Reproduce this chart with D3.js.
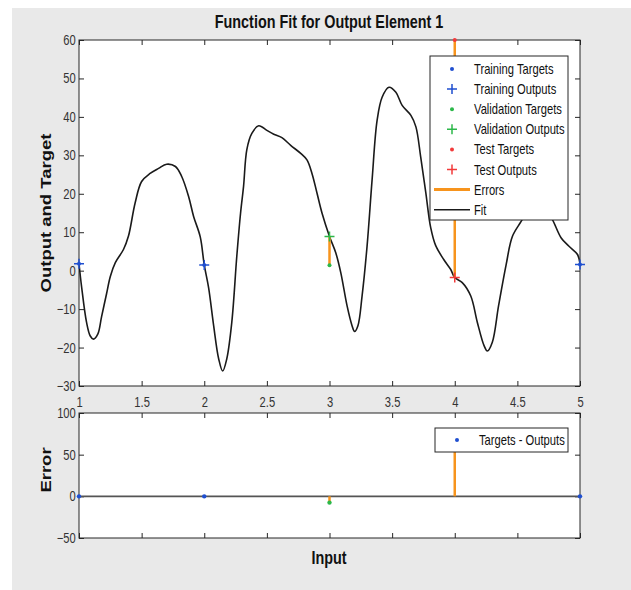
<!DOCTYPE html>
<html>
<head>
<meta charset="utf-8">
<script src="https://cdn.jsdelivr.net/npm/d3@7"></script>
<style>
  body { margin: 0; background: #fff; }
  text { font-family: "Liberation Sans", Arial, sans-serif; }
</style>
</head>
<body>
<div id="chart"></div>
<script>
// data
var trainX = [1, 2, 5],
    trainTargets = [1.8, 1.5, 1.6],
    trainOutputs = [1.8, 1.5, 1.6];
var valX = [3],
    valTargets = [1.4],
    valOutputs = [8.9];
var testX = [4],
    testTargets = [60],
    testOutputs = [-1.8];

var fitX = [1.00, 1.02, 1.06, 1.09, 1.115, 1.15, 1.18, 1.22, 1.25, 1.29, 1.355, 1.395, 1.448, 1.50, 1.568, 1.635, 1.70,
            1.77, 1.82, 1.875, 1.915, 1.968, 2.00, 2.035, 2.075, 2.115, 2.147, 2.18, 2.22, 2.26, 2.29, 2.314,
            2.34, 2.38, 2.435, 2.50, 2.555, 2.62, 2.69, 2.77, 2.82, 2.86, 2.90, 2.94, 3.00, 3.05, 3.09,
            3.14, 3.18, 3.20, 3.227, 3.26, 3.30, 3.34, 3.38, 3.42, 3.475, 3.53, 3.58, 3.65, 3.69, 3.728,
            3.768, 3.808, 3.848, 3.912, 3.968, 4.00, 4.06, 4.128, 4.18, 4.234, 4.26, 4.30, 4.35, 4.41, 4.46,
            4.53, 4.60, 4.66, 4.72, 4.78, 4.85, 4.91, 4.98, 5.00];
var fitY = [1.8, -4, -13.4, -17, -17.8, -16.5, -12, -6, -1.5, 2.1, 5.5, 9, 17.6, 23.2, 25.3, 26.6, 27.7,
            27.1, 24.5, 19.3, 14.1, 8.8, 1.5, -4.5, -14.3, -22.9, -26.1, -22.9, -13.4, 3.8, 15, 22,
            31.5, 35.7, 37.7, 36.5, 35.5, 34.6, 32.6, 30.5, 28.8, 25.3, 20.2, 15, 8.9, 4.65, -0.5,
            -9.1, -14.3, -15.8, -14.3, -6.6, 6.4, 23.6, 39.1, 45.1, 47.7, 46.4, 43, 40.4, 37.4, 29.6,
            20.5, 11.2, 6.5, 2.9, 0.3, -1.8, -3.1, -6.6, -13.4, -19.5, -20.9, -18.6, -9.1, 1.5, 8.9,
            12.8, 16.5, 17.5, 16.5, 13.3, 8.5, 6.4, 4.2, 1.6];

var xTicks = [1, 1.5, 2, 2.5, 3, 3.5, 4, 4.5, 5],
    yTicksTop = [-30, -20, -10, 0, 10, 20, 30, 40, 50, 60],
    yTicksErr = [-50, 0, 50, 100];

var legendLabels = ["Training Targets", "Training Outputs", "Validation Targets", "Validation Outputs",
                    "Test Targets", "Test Outputs", "Errors", "Fit"];

// styles
var blue = "#1f4fd0", green = "#2cb84a", red = "#f23a3a", orange = "#f7941d", ink = "#262626";
var squeeze = 0.8;

var width = 631, height = 590;
var left = 79, right = 580;

var x = d3.scaleLinear().domain([1, 5]).range([left, right]);
var yTop = d3.scaleLinear().domain([-30, 60]).range([386, 40]);
var yErr = d3.scaleLinear().domain([-50, 100]).range([538, 413]);

var svg = d3.select("#chart").append("svg")
    .attr("width", width)
    .attr("height", height);

svg.append("rect")
    .attr("x", 12).attr("y", 8)
    .attr("width", width - 12).attr("height", height - 8)
    .attr("fill", "#e9e9e9");

function series(xs, ys) {
  return xs.map(function(d, i) { return { x: d, y: ys[i] }; });
}

function plus(sel, color) {
  sel.append("path")
    .attr("d", "M-5,0H5M0,-5V5")
    .attr("stroke", color)
    .attr("stroke-width", 1.5)
    .attr("fill", "none");
}

function drawAxes(yScale, yTicks, showX) {
  var top = yScale.range()[1], bottom = yScale.range()[0];
  var g = svg.append("g");

  g.append("rect")
    .attr("x", left).attr("y", top)
    .attr("width", right - left).attr("height", bottom - top)
    .attr("fill", "#fff");

  return function() {
    var fmt = d3.format("");
    g.append("g")
      .attr("transform", "translate(0," + bottom + ")")
      .call(d3.axisBottom(x).tickValues(xTicks).tickSizeInner(-5).tickSizeOuter(0)
        .tickPadding(11).tickFormat(showX ? fmt : ""));
    g.append("g")
      .attr("transform", "translate(0," + top + ")")
      .call(d3.axisTop(x).tickValues(xTicks).tickSizeInner(-5).tickSizeOuter(0).tickFormat(""));
    g.append("g")
      .attr("transform", "translate(" + left + ",0)")
      .call(d3.axisLeft(yScale).tickValues(yTicks).tickSizeInner(-5).tickSizeOuter(0).tickPadding(4).tickFormat(fmt));
    g.append("g")
      .attr("transform", "translate(" + right + ",0)")
      .call(d3.axisRight(yScale).tickValues(yTicks).tickSizeInner(-5).tickSizeOuter(0).tickFormat(""));

    g.selectAll(".domain").remove();
    g.selectAll(".tick line").attr("stroke", ink);
    g.selectAll(".tick text")
      .attr("fill", "#333")
      .style("font-size", "14px")
      .attr("transform", "scale(" + squeeze + ",1)");

    g.append("rect")
      .attr("x", left).attr("y", top)
      .attr("width", right - left).attr("height", bottom - top)
      .attr("fill", "none")
      .attr("stroke", ink)
      .attr("stroke-width", 1);
  };
}

// clip paths
var defs = svg.append("defs");
defs.append("clipPath").attr("id", "clip-top")
  .append("rect").attr("x", left).attr("y", 40).attr("width", right - left).attr("height", 346);
defs.append("clipPath").attr("id", "clip-err")
  .append("rect").attr("x", left).attr("y", 413).attr("width", right - left).attr("height", 125);

var errSets = [
  { xs: trainX, t: trainTargets, o: trainOutputs, color: blue },
  { xs: valX, t: valTargets, o: valOutputs, color: green },
  { xs: testX, t: testTargets, o: testOutputs, color: red }
];

// ---------- top plot ----------
var finishTop = drawAxes(yTop, yTicksTop, true);
var plotTop = svg.append("g").attr("clip-path", "url(#clip-top)");

var line = d3.line()
    .curve(d3.curveCatmullRom.alpha(0.5))
    .x(function(d) { return x(d.x); })
    .y(function(d) { return yTop(d.y); });

plotTop.append("path")
  .attr("d", line(series(fitX, fitY)))
  .attr("fill", "none")
  .attr("stroke", "#1a1a1a")
  .attr("stroke-width", 1.6);

errSets.forEach(function(s) {
  s.xs.forEach(function(xv, i) {
    plotTop.append("line")
      .attr("x1", x(xv)).attr("x2", x(xv))
      .attr("y1", yTop(s.t[i])).attr("y2", yTop(s.o[i]))
      .attr("stroke", orange).attr("stroke-width", 2.5);
  });
});

finishTop();

var marksTop = svg.append("g");
errSets.forEach(function(s) {
  s.xs.forEach(function(xv, i) {
    marksTop.append("circle")
      .attr("cx", x(xv)).attr("cy", yTop(s.t[i])).attr("r", 2)
      .attr("fill", s.color);
    plus(marksTop.append("g").attr("transform", "translate(" + x(xv) + "," + yTop(s.o[i]) + ")"), s.color);
  });
});

// top legend
var leg = svg.append("g").attr("transform", "translate(430,56)");
leg.append("rect")
  .attr("width", 138).attr("height", 164)
  .attr("fill", "#fff").attr("stroke", ink).attr("stroke-width", 1);

var legColors = [blue, blue, green, green, red, red, orange, "#1a1a1a"];
legendLabels.forEach(function(label, i) {
  var row = leg.append("g").attr("transform", "translate(0," + (13 + i * 20.1) + ")");
  if (i < 6) {
    if (i % 2 === 0) {
      row.append("circle").attr("cx", 22).attr("cy", 0).attr("r", 2).attr("fill", legColors[i]);
    } else {
      plus(row.append("g").attr("transform", "translate(22,0)"), legColors[i]);
    }
  } else {
    row.append("line")
      .attr("x1", 4).attr("x2", 40).attr("y1", 0).attr("y2", 0)
      .attr("stroke", legColors[i]).attr("stroke-width", i === 6 ? 3 : 1.6);
  }
  row.append("text")
    .attr("transform", "translate(44,5) scale(" + squeeze + ",1)")
    .style("font-size", "14px")
    .attr("fill", "#111")
    .text(label);
});

// ---------- error plot ----------
var finishErr = drawAxes(yErr, yTicksErr, false);
var plotErr = svg.append("g").attr("clip-path", "url(#clip-err)");

plotErr.append("line")
  .attr("x1", x(1)).attr("x2", x(5))
  .attr("y1", yErr(0)).attr("y2", yErr(0))
  .attr("stroke", "#555").attr("stroke-width", 1.8);

errSets.forEach(function(s) {
  s.xs.forEach(function(xv, i) {
    var e = s.t[i] - s.o[i];
    plotErr.append("line")
      .attr("x1", x(xv)).attr("x2", x(xv))
      .attr("y1", yErr(0)).attr("y2", yErr(e))
      .attr("stroke", orange).attr("stroke-width", 2.5);
  });
});

finishErr();

var marksErr = svg.append("g");
errSets.forEach(function(s) {
  s.xs.forEach(function(xv, i) {
    var e = s.t[i] - s.o[i];
    marksErr.append("circle")
      .attr("cx", x(xv)).attr("cy", yErr(e)).attr("r", 2.2)
      .attr("fill", s.color);
  });
});

var leg2 = svg.append("g").attr("transform", "translate(435,428)");
leg2.append("rect")
  .attr("width", 133).attr("height", 24)
  .attr("fill", "#fff").attr("stroke", ink).attr("stroke-width", 1);
leg2.append("circle").attr("cx", 22).attr("cy", 12).attr("r", 2).attr("fill", blue);
leg2.append("text")
  .attr("transform", "translate(44,17) scale(" + squeeze + ",1)")
  .style("font-size", "14px")
  .attr("fill", "#111")
  .text("Targets - Outputs");

// titles and labels
svg.append("text")
  .attr("transform", "translate(329,28) scale(" + squeeze + ",1)")
  .attr("text-anchor", "middle")
  .style("font-size", "18px")
  .style("font-weight", "bold")
  .attr("fill", "#111")
  .text("Function Fit for Output Element 1");

svg.append("text")
  .attr("transform", "translate(51,213) rotate(-90) scale(1," + squeeze + ")")
  .attr("text-anchor", "middle")
  .style("font-size", "18.5px")
  .style("font-weight", "bold")
  .attr("fill", "#111")
  .text("Output and Target");

svg.append("text")
  .attr("transform", "translate(51,470) rotate(-90) scale(1," + squeeze + ")")
  .attr("text-anchor", "middle")
  .style("font-size", "18.5px")
  .style("font-weight", "bold")
  .attr("fill", "#111")
  .text("Error");

svg.append("text")
  .attr("transform", "translate(329,564) scale(" + squeeze + ",1)")
  .attr("text-anchor", "middle")
  .style("font-size", "18px")
  .style("font-weight", "bold")
  .attr("fill", "#111")
  .text("Input");
</script>
</body>
</html>
